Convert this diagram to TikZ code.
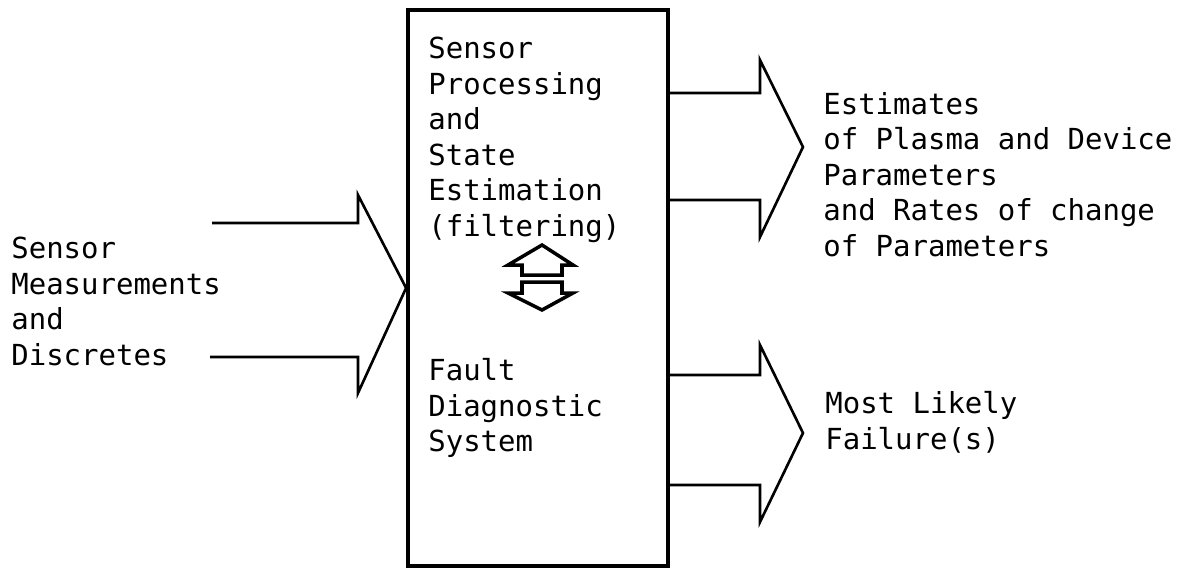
\documentclass[tikz,border=0pt]{standalone}
\usepackage{fontspec}
\setmonofont{DejaVu Sans Mono}

\begin{document}
\begin{tikzpicture}[x=0.02cm,y=-0.02cm,
  lbl/.style={anchor=north west,inner sep=0pt,align=left,
    font=\ttfamily\fontsize{16.5}{20.2}\selectfont},
  fat/.style={line width=1.5pt,line join=miter},
  twin/.style={line width=2pt,line join=miter}]
\useasboundingbox (0,0) rectangle (1184,569);

% processing block
\node[draw,line width=2.2pt,minimum width=5.2cm,minimum height=11.12cm,inner sep=0pt] (proc) at (538,288) {};
\node[lbl] (est) at (428,37) {Sensor\\Processing\\and\\State\\Estimation\\(filtering)};
\node[lbl] (fds) at (428,358) {Fault\\Diagnostic\\System};

% inputs and outputs
\node[lbl] (meas) at (11,237) {Sensor\\Measurements\\and\\Discretes};
\node[lbl] (params) at (823,92) {Estimates\\of Plasma and Device\\Parameters\\and Rates of change\\of Parameters};
\node[lbl] (fail) at (825,391) {Most Likely\\Failure(s)};

% big open arrows
\draw[fat] (212,223) -- (358,223) -- (358,195) -- (proc.west) -- (358,393) -- (358,357) -- (210,357);
\foreach \a/\b/\c/\d/\e in {60/93/147/200/237, 345/375/433/485/522}
  \draw[fat] (668,\b) -- (760,\b) -- (760,\a) -- (803,\c) -- (760,\e) -- (760,\d) -- (668,\d);

% two-way exchange between filter and diagnostics
\draw[twin] (542,245) -- (573,265) -- (562,265) -- (562,275) -- (522,275) -- (522,265) -- (508,265) -- cycle;
\draw[twin] (542,310) -- (573,293) -- (562,293) -- (562,282) -- (522,282) -- (522,293) -- (508,293) -- cycle;
\end{tikzpicture}
\end{document}
